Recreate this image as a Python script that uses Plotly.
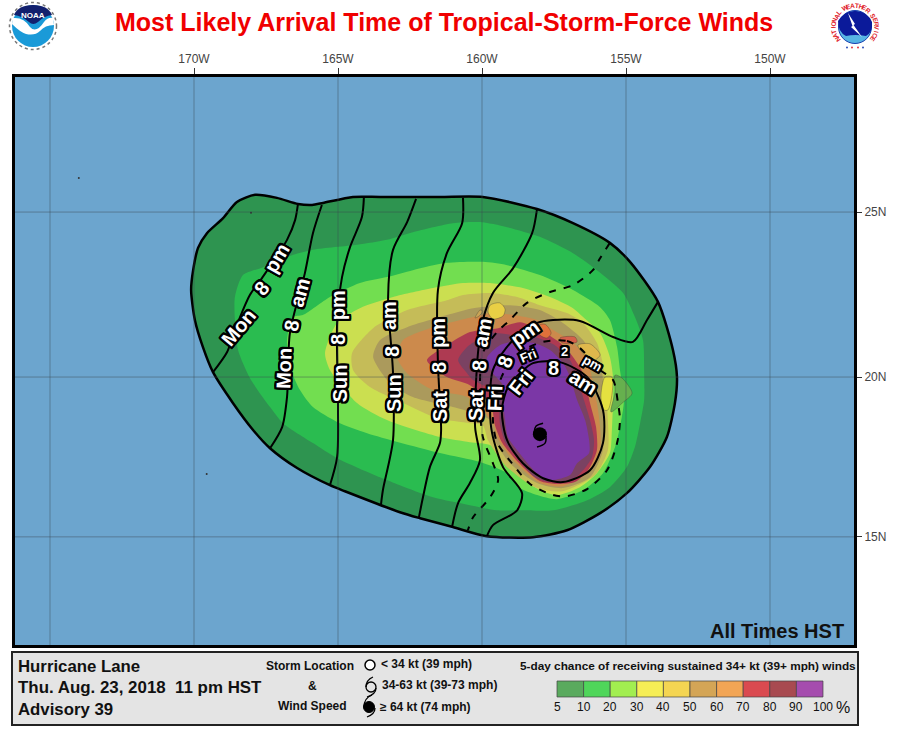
import numpy as np
import plotly.graph_objects as go

W, H = 897, 736
FONT = "Liberation Sans"

# wind probability contours (lon, lat)
P05_LON = [-161.46, -159.97, -158.09, -156.84, -155.56, -154.86, -153.89, -153.37, -153.23, -153.30, -153.58, -154.17, -154.97, -155.90, -157.05, -158.23, -159.83, -161.01, -162.15, -162.85, -164.76, -165.28, -166.42, -167.36, -167.95, -168.65, -169.34, -169.69, -169.97, -170.10, -170.03, -169.86, -169.55, -168.99, -168.51, -167.88, -167.12, -166.39, -165.90, -165.52, -164.48, -163.54, -161.46]
P05_LAT = [25.45, 25.45, 25.09, 24.67, 24.08, 23.51, 22.30, 20.83, 20.00, 19.20, 18.14, 17.20, 16.38, 15.75, 15.21, 14.99, 15.02, 15.31, 15.59, 15.78, 16.44, 16.63, 17.17, 17.79, 18.36, 19.20, 20.15, 20.92, 21.75, 22.66, 23.26, 23.93, 24.37, 24.82, 25.30, 25.51, 25.42, 25.24, 25.21, 25.27, 25.45, 25.45, 25.45]
P10_LON = [-167.60, -166.77, -165.87, -164.34, -163.30, -162.40, -161.01, -160.07, -159.13, -157.99, -156.84, -156.01, -155.10, -154.69, -154.41, -154.37, -154.37, -154.51, -154.69, -154.97, -155.56, -156.35, -157.53, -158.68, -159.48, -160.42, -161.70, -162.85, -163.54, -165.03, -165.87, -166.91, -167.36, -168.06, -168.47, -168.58, -168.58, -168.30]
P10_LAT = [23.35, 23.66, 23.87, 24.02, 24.17, 24.40, 24.67, 24.70, 24.55, 24.26, 23.77, 23.26, 22.57, 21.84, 21.14, 20.22, 19.29, 18.57, 17.83, 17.20, 16.57, 16.16, 15.84, 15.84, 15.84, 16.00, 16.25, 16.63, 16.88, 17.48, 17.95, 18.57, 19.07, 19.97, 20.83, 21.75, 22.45, 23.11]
P20_LON = [-165.28, -166.22, -166.56, -166.77, -166.67, -166.32, -165.87, -165.03, -163.99, -161.46, -160.07, -159.13, -158.68, -158.09, -157.40, -156.49, -155.80, -155.38, -155.21, -155.07, -155.21, -155.31, -155.56, -155.90, -156.84, -157.99, -159.13, -159.97, -161.22, -162.40, -163.30, -164.24]
P20_LAT = [22.45, 21.90, 21.84, 21.14, 20.31, 19.60, 19.07, 18.61, 18.26, 17.64, 17.36, 17.01, 16.54, 16.32, 16.19, 16.48, 17.01, 17.83, 18.45, 19.29, 20.22, 20.92, 21.75, 22.14, 22.66, 23.11, 23.41, 23.51, 23.48, 23.26, 23.05, 22.87]
P30_LON = [-165.45, -165.28, -164.34, -163.30, -161.46, -160.42, -159.72, -159.27, -158.68, -157.99, -157.40, -156.60, -156.01, -155.56, -155.49, -155.45, -155.45, -155.56, -155.90, -156.49, -156.84, -157.64, -158.58, -159.72, -160.66, -161.70, -163.09, -164.24, -165.03]
P30_LAT = [20.74, 20.22, 19.20, 18.67, 18.14, 17.98, 17.89, 17.42, 16.88, 16.48, 16.32, 16.57, 17.01, 17.64, 18.36, 19.29, 20.00, 20.62, 21.35, 21.84, 22.11, 22.45, 22.72, 22.87, 22.87, 22.72, 22.45, 22.11, 21.66]
P40_LON = [-164.51, -164.48, -163.89, -162.74, -161.56, -160.42, -159.97, -159.79, -159.20, -158.16, -157.22, -156.08, -155.63, -155.63, -155.73, -155.83, -156.01, -156.49, -157.05, -157.99, -158.78, -159.72, -160.66, -161.22, -162.60, -163.78]
P40_LAT = [20.74, 20.22, 19.69, 19.20, 18.73, 18.57, 18.51, 18.04, 17.26, 16.57, 16.44, 16.95, 17.73, 18.67, 20.00, 20.52, 21.05, 21.66, 21.96, 22.20, 22.45, 22.57, 22.51, 22.35, 22.05, 21.50]
P50_LON = [-163.78, -163.19, -162.40, -161.01, -160.31, -159.72, -159.62, -159.03, -158.09, -157.19, -156.25, -155.80, -155.80, -155.83, -156.08, -156.49, -157.19, -157.99, -159.03, -160.31, -161.22, -162.60, -163.54]
P50_LAT = [20.62, 19.81, 19.38, 19.07, 18.89, 18.67, 18.14, 17.32, 16.70, 16.54, 16.88, 17.73, 18.67, 20.12, 20.52, 21.14, 21.66, 22.05, 22.20, 22.11, 21.90, 21.53, 21.14]
P60_LON = [-162.95, -162.60, -161.70, -160.52, -159.62, -159.48, -158.92, -157.99, -157.19, -156.35, -155.90, -155.90, -156.01, -156.35, -156.84, -157.53, -158.09, -158.92, -159.72, -160.31, -161.70, -162.74]
P60_LAT = [20.62, 20.12, 19.60, 19.38, 18.57, 18.14, 17.42, 16.70, 16.60, 17.01, 17.73, 18.45, 19.20, 20.52, 21.05, 21.44, 21.75, 21.90, 21.96, 21.84, 21.53, 21.14]
P70_LON = [-161.91, -161.22, -160.42, -159.69, -159.55, -159.31, -158.75, -157.99, -157.47, -156.77, -156.32, -156.01, -156.04, -156.25, -156.49, -156.84, -157.29, -157.99, -158.68, -159.44, -160.42, -161.22]
P70_LAT = [20.52, 20.00, 19.75, 19.13, 18.51, 17.98, 17.36, 16.76, 16.67, 16.73, 17.10, 17.73, 18.45, 19.20, 20.12, 20.62, 21.05, 21.44, 21.68, 21.50, 21.38, 20.98]
P80_LON = [-160.83, -160.52, -160.31, -159.79, -159.44, -159.38, -159.20, -158.85, -158.16, -157.64, -156.88, -156.49, -156.18, -156.11, -156.25, -156.46, -156.70, -156.94, -157.47, -158.16, -158.92, -159.72, -160.17, -160.52]
P80_LAT = [20.52, 20.12, 19.91, 19.66, 19.29, 18.57, 17.98, 17.57, 16.88, 16.73, 16.79, 17.10, 17.51, 18.04, 18.67, 19.29, 20.00, 20.52, 20.98, 21.23, 21.29, 21.35, 21.14, 20.92]
P90_LON = [-159.83, -159.62, -159.27, -159.27, -159.20, -159.10, -158.78, -158.09, -157.64, -156.94, -156.70, -156.28, -156.28, -156.42, -156.70, -156.94, -157.19, -157.64, -158.23, -158.92, -159.38]
P90_LAT = [20.59, 20.12, 19.75, 19.29, 18.67, 18.14, 17.73, 17.01, 16.79, 16.95, 17.32, 17.64, 18.04, 18.67, 19.29, 20.00, 20.43, 20.83, 21.05, 21.08, 20.98]
MAP_COLORS = ["#2e9450", "#2abc50", "#72de50", "#cbdf50", "#c5bc58", "#ab9a5c", "#cc8a4c", "#ae3a52", "#7a4262", "#7b37a6"]

# arrival time lines
MON_PM_LON = [-166.39, -166.49, -166.77, -167.64, -168.06, -168.58, -168.85, -169.34]
MON_PM_LAT = [25.24, 24.76, 24.17, 23.02, 22.51, 21.44, 20.77, 20.15]
MON_AM_LON = [-165.56, -165.87, -166.15, -166.67, -166.77, -166.94, -167.36]
MON_AM_LAT = [25.21, 24.37, 23.17, 21.35, 19.38, 18.45, 17.79]
SUN_PM_LON = [-164.10, -164.17, -164.58, -164.86, -165.03, -165.00, -165.03, -165.28]
SUN_PM_LAT = [25.45, 24.85, 23.96, 23.05, 21.66, 19.07, 17.51, 16.63]
SUN_AM_LON = [-162.29, -162.60, -163.09, -163.26, -163.09, -163.09, -163.44, -163.51]
SUN_AM_LAT = [25.39, 24.70, 23.87, 22.45, 20.12, 18.04, 16.48, 16.00]
SAT_PM_LON = [-160.66, -160.69, -161.22, -161.53, -161.53, -161.42, -161.46, -161.81, -162.05, -162.19]
SAT_PM_LAT = [25.42, 24.67, 23.77, 22.66, 20.43, 18.36, 17.95, 17.20, 16.25, 15.62]
SAT_AM_LON = [-158.09, -158.26, -158.92, -159.62, -159.97, -160.14, -160.24, -160.07, -160.42, -160.83, -161.04]
SAT_AM_LAT = [25.09, 24.37, 23.32, 22.57, 21.75, 20.74, 18.45, 17.42, 16.70, 16.07, 15.31]
FRI_PM_LON = [-153.89, -154.27, -154.76, -155.45, -156.60, -157.53, -158.09, -158.92, -159.62, -159.72, -159.65, -159.27, -158.61, -158.78, -159.62, -159.83]
FRI_PM_LAT = [22.30, 21.75, 21.08, 21.23, 21.72, 21.75, 21.66, 21.14, 20.22, 18.98, 18.26, 17.20, 16.38, 15.84, 15.37, 15.02]
FRI_AM_LON = [-159.10, -158.68, -158.23, -157.29, -156.35, -155.80, -155.80, -156.25, -157.19, -157.88, -158.58, -159.13, -159.31, -159.10]
FRI_AM_LAT = [19.69, 20.12, 20.43, 20.46, 20.00, 18.98, 17.95, 17.10, 16.73, 16.85, 17.32, 18.04, 18.98, 19.69]
SAT_2AM_LON = [-155.56, -155.90, -156.15, -156.84, -157.64, -158.44, -159.03, -159.48, -159.97, -160.07, -159.97, -159.62, -159.44, -159.72, -160.31, -160.49]
SAT_2AM_LAT = [24.08, 23.62, 23.26, 22.81, 22.60, 22.27, 21.75, 21.38, 20.74, 19.29, 18.14, 17.32, 16.79, 16.25, 15.62, 15.21]
FRI_2PM_LON = [-157.88, -157.05, -156.60, -155.90, -155.45, -155.28, -155.21, -155.31, -155.66, -156.35, -157.05, -157.53, -158.33, -158.96, -159.48, -159.62, -159.48, -159.20, -158.68, -157.88]
FRI_2PM_LAT = [21.08, 21.11, 20.89, 20.22, 19.91, 19.20, 18.67, 17.95, 17.10, 16.51, 16.29, 16.32, 16.67, 17.32, 17.98, 18.67, 19.60, 20.22, 20.77, 21.08]

# line labels: word, lon, lat, angle, size
LABEL_WORDS = ["Mon", "8", "pm", "Mon", "8", "am", "Sun", "8", "pm", "Sun", "8", "am", "Sat", "8", "pm", "Sat", "8", "am", "Fri", "8", "pm", "Fri", "8", "am", "Fri", "2", "pm"]
LABEL_LON = [-168.44, -167.64, -167.12, -166.88, -166.60, -166.32, -164.93, -165.00, -165.00, -163.06, -163.13, -163.23, -161.46, -161.49, -161.53, -160.21, -160.10, -159.97, -159.55, -159.20, -158.51, -158.65, -157.53, -156.49, -158.37, -157.12, -156.15]
LABEL_LAT = [21.53, 22.72, 23.62, 20.28, 21.59, 22.60, 19.81, 21.14, 22.20, 19.50, 20.80, 21.90, 19.10, 20.28, 21.35, 19.13, 20.34, 21.38, 19.35, 20.46, 21.35, 19.85, 20.28, 19.85, 20.65, 20.80, 20.43]
LABEL_ANGLE = [-50, -50, -60, -88, -80, -75, -90, -90, -90, -90, -90, -90, -90, -90, -90, -88, -85, -80, -88, -70, -35, -52, 0, 32, -22, 0, 30]
LABEL_SIZE = [20] * 24 + [13, 13, 13]

# islands
ISLAND_LONS = [
    [-159.72, -159.38, -159.20, -159.27, -159.62, -159.79],
    [-160.24, -160.10, -159.97, -160.07],
    [-158.09, -157.81, -157.60, -157.74, -157.99],
    [-157.29, -156.77, -156.70, -157.22],
    [-156.67, -156.25, -155.90, -156.18, -156.53],
    [-155.38, -155.14, -154.79, -155.10, -155.52, -155.38],
    [-155.73, -155.49, -155.49, -155.63, -155.76, -155.87],
]
ISLAND_LATS = [
    [22.20, 22.27, 22.08, 21.87, 21.78, 21.99],
    [21.81, 21.87, 22.02, 22.05],
    [21.56, 21.62, 21.35, 21.20, 21.29],
    [21.20, 21.23, 21.08, 21.05],
    [20.98, 21.02, 20.68, 20.49, 20.77],
    [20.06, 19.97, 19.50, 19.22, 18.92, 19.54],
    [20.00, 20.00, 19.44, 18.98, 18.98, 19.38],
]
ISLAND_COLORS = ["#e9cf45", "#c9a456", "#e0703a", "#d5604a", "#dfb84c", "#66b04e", "#e4e040"]

STORM_LON, STORM_LAT = -157.99, 18.23
ARM_TOP_LON = [-158.19, -158.12, -157.88]
ARM_TOP_LAT = [18.29, 18.48, 18.57]
ARM_BOTTOM_LON = [-157.78, -157.81, -158.09]
ARM_BOTTOM_LAT = [18.17, 17.95, 17.83]

SPECK_LON = [-174.00, -169.56, -168.02]
SPECK_LAT = [26.01, 16.98, 24.98]

GRID_LON = [-175, -170, -165, -160, -155, -150]
LON_TICKS = [-170, -165, -160, -155, -150]
LON_LABELS = ["170W", "165W", "160W", "155W", "150W"]
LAT_TICKS = [25, 20, 15]
LAT_LABELS = ["25N", "20N", "15N"]

KEY_LABELS = ["5", "10", "20", "30", "40", "50", "60", "70", "80", "90", "100"]
KEY_COLORS = ["#5aaa5e", "#4fd65a", "#a2ee50", "#f6ee55", "#f4d552", "#d4a556", "#f2a555", "#da4a50", "#a84a50", "#a54cae"]


def merc(lat):
    # the map is a Mercator projection, so latitudes are stretched before plotting
    return np.log(np.tan(np.pi / 4 + np.radians(np.asarray(lat, dtype=float)) / 2))


def px(x):
    return x / W


def py(y):
    return 1 - y / H


def page_path(points, close=True):
    # points are page pixels, (x, y) or ("Q", x1, y1, x2, y2)
    out = []
    for i, p in enumerate(points):
        if p[0] == "Q":
            out.append(f"Q {px(p[1]):.5f} {py(p[2]):.5f} {px(p[3]):.5f} {py(p[4]):.5f}")
        else:
            out.append(f"{'M' if i == 0 else 'L'} {px(p[0]):.5f} {py(p[1]):.5f}")
    return " ".join(out) + (" Z" if close else "")


def add_path(fig, points, fill=None, line=None, width=0, close=True):
    fig.add_shape(type="path", xref="paper", yref="paper", path=page_path(points, close),
                  fillcolor=fill if fill else "rgba(0,0,0,0)",
                  line=dict(color=line if line else "rgba(0,0,0,0)", width=width), layer="above")


def add_circle(fig, cx, cy, r, fill=None, line=None, width=0, dash=None):
    fig.add_shape(type="circle", xref="paper", yref="paper",
                  x0=px(cx - r), x1=px(cx + r), y0=py(cy + r), y1=py(cy - r),
                  fillcolor=fill if fill else "rgba(0,0,0,0)",
                  line=dict(color=line if line else "rgba(0,0,0,0)", width=width, dash=dash), layer="above")


def add_text(fig, text, x, y, size, color="#111111", bold=True, anchor="left", angle=0):
    label = f"<b>{text}</b>" if bold else text
    fig.add_annotation(text=label, xref="paper", yref="paper", x=px(x), y=py(y), showarrow=False,
                       xanchor=anchor, yanchor="middle", textangle=angle,
                       font=dict(family=FONT, size=size, color=color))


fig = go.Figure()

# probability fills, outermost first
levels = [(P05_LON, P05_LAT), (P10_LON, P10_LAT), (P20_LON, P20_LAT), (P30_LON, P30_LAT), (P40_LON, P40_LAT),
          (P50_LON, P50_LAT), (P60_LON, P60_LAT), (P70_LON, P70_LAT), (P80_LON, P80_LAT), (P90_LON, P90_LAT)]
for (lons, lats), color in zip(levels, MAP_COLORS):
    fig.add_trace(go.Scatter(x=lons + lons[:1], y=merc(lats + lats[:1]), mode="lines", fill="toself", fillcolor=color,
                             line=dict(color=color, width=0, shape="spline", smoothing=0.7),
                             hoverinfo="skip", showlegend=False))

for lons, lats, color in zip(ISLAND_LONS, ISLAND_LATS, ISLAND_COLORS):
    fig.add_trace(go.Scatter(x=lons + lons[:1], y=merc(lats + lats[:1]), mode="lines", fill="toself", fillcolor=color,
                             line=dict(color="rgba(60,60,50,0.5)", width=0.7, shape="spline", smoothing=0.8),
                             hoverinfo="skip", showlegend=False))

# outline of the 5% area
fig.add_trace(go.Scatter(x=P05_LON, y=merc(P05_LAT), mode="lines",
                         line=dict(color="black", width=2.5, shape="spline", smoothing=0.7),
                         hoverinfo="skip", showlegend=False))

solid = [(MON_PM_LON, MON_PM_LAT), (MON_AM_LON, MON_AM_LAT), (SUN_PM_LON, SUN_PM_LAT), (SUN_AM_LON, SUN_AM_LAT),
         (SAT_PM_LON, SAT_PM_LAT), (SAT_AM_LON, SAT_AM_LAT), (FRI_PM_LON, FRI_PM_LAT), (FRI_AM_LON, FRI_AM_LAT)]
for lons, lats in solid:
    fig.add_trace(go.Scatter(x=lons, y=merc(lats), mode="lines",
                             line=dict(color="black", width=2, shape="spline", smoothing=0.8),
                             hoverinfo="skip", showlegend=False))
for lons, lats in [(SAT_2AM_LON, SAT_2AM_LAT), (FRI_2PM_LON, FRI_2PM_LAT)]:
    fig.add_trace(go.Scatter(x=lons, y=merc(lats), mode="lines",
                             line=dict(color="black", width=2, dash="7px,8px", shape="spline", smoothing=0.8),
                             hoverinfo="skip", showlegend=False))

# hurricane symbol
fig.add_trace(go.Scatter(x=[STORM_LON], y=merc([STORM_LAT]), mode="markers",
                         marker=dict(color="black", size=14), hoverinfo="skip", showlegend=False))
for lons, lats in [(ARM_TOP_LON, ARM_TOP_LAT), (ARM_BOTTOM_LON, ARM_BOTTOM_LAT)]:
    fig.add_trace(go.Scatter(x=lons, y=merc(lats), mode="lines",
                             line=dict(color="black", width=1.5, shape="spline"),
                             hoverinfo="skip", showlegend=False))
fig.add_trace(go.Scatter(x=SPECK_LON, y=merc(SPECK_LAT), mode="markers",
                         marker=dict(color="#333333", size=2), hoverinfo="skip", showlegend=False))

# map grid sits on top of the colours
for lon in GRID_LON:
    fig.add_shape(type="line", xref="x", yref="paper", x0=lon, x1=lon, y0=py(645), y1=py(77),
                  line=dict(color="rgba(60,70,80,0.45)", width=1), layer="above")
for lat in LAT_TICKS:
    fig.add_shape(type="line", xref="paper", yref="y", x0=px(15), x1=px(854), y0=float(merc(lat)), y1=float(merc(lat)),
                  line=dict(color="rgba(60,70,80,0.45)", width=1), layer="above")

# time labels with the black halo
halo = ", ".join(f"{dx}px {dy}px 0 #000" for dx in (-2, -1, 0, 1, 2) for dy in (-2, -1, 0, 1, 2))
for word, lon, lat, angle, size in zip(LABEL_WORDS, LABEL_LON, LABEL_LAT, LABEL_ANGLE, LABEL_SIZE):
    fig.add_annotation(text=f"<b>{word}</b>", x=lon, y=float(merc(lat)), xref="x", yref="y", showarrow=False,
                       textangle=angle, font=dict(family=FONT, size=size, color="white", shadow=halo))

# header
add_text(fig, "Most Likely Arrival Time of Tropical-Storm-Force Winds", 443.5, 22, 25, color="#f00000", anchor="center")
add_text(fig, "All Times HST", 846, 631, 20, anchor="right")

# bottom panel
add_path(fig, [(12, 652), (858, 652), (858, 725), (12, 725)], fill="#e4e4e4", line="#222222", width=2)
add_text(fig, "Hurricane Lane", 16, 666, 16.8)
add_text(fig, "Thu. Aug. 23, 2018\u00a0 11 pm HST", 16, 687, 16.9)
add_text(fig, "Advisory 39", 16, 709, 16.8)
add_text(fig, "Storm Location", 309.5, 665.5, 12, anchor="center")
add_text(fig, "&", 312, 686, 12, anchor="center")
add_text(fig, "Wind Speed", 312, 706, 12, anchor="center")
add_text(fig, "&lt; 34 kt (39 mph)", 379, 664, 12)
add_text(fig, "34-63 kt (39-73 mph)", 380, 685, 12)
add_text(fig, "≥ 64 kt (74 mph)", 378, 707, 12)
add_text(fig, "5-day chance of receiving sustained 34+ kt (39+ mph) winds", 518, 666, 11.8)

# storm key symbols
add_circle(fig, 370, 665, 5, fill="white", line="black", width=1.5)
add_circle(fig, 371, 687, 5, line="black", width=1.3)
add_path(fig, [(373, 677), ("Q", 366, 680, 366, 687)], line="black", width=1.3, close=False)
add_path(fig, [(376, 688), ("Q", 376, 694, 367, 697)], line="black", width=1.3, close=False)
add_circle(fig, 369, 707, 5.5, fill="black", line="black", width=1)
add_path(fig, [(372, 695), ("Q", 364, 698, 364, 707)], line="black", width=1.3, close=False)
add_path(fig, [(375, 708), ("Q", 375, 714, 367, 717)], line="black", width=1.3, close=False)

# colour key
key_left, key_step = 557, 26.6
for i, color in enumerate(KEY_COLORS):
    x0 = key_left + i * key_step
    add_path(fig, [(x0, 681), (x0 + key_step, 681), (x0 + key_step, 697), (x0, 697)], fill=color, line="#444444", width=0.7)
for i, label in enumerate(KEY_LABELS):
    add_text(fig, label, key_left + i * key_step, 707, 12, anchor="center", bold=False)
add_text(fig, "%", 843, 707, 16, anchor="center", bold=False)

# NOAA logo
add_circle(fig, 33, 26, 23.5, line="#777777", width=1.5, dash="dot")
add_circle(fig, 33, 26, 21, fill="#1a9ad8")
add_path(fig, [(14, 15), ("Q", 18, 5, 33, 5), ("Q", 48, 5, 52, 15), ("Q", 44, 16, 38, 22), ("Q", 33, 26, 29, 22), ("Q", 22, 16, 14, 15)], fill="#12206e")
add_path(fig, [(13, 18), ("Q", 24, 17, 30, 27), ("Q", 36, 34, 44, 22), ("Q", 48, 17, 53, 18), (54, 25), ("Q", 45, 25, 40, 31), ("Q", 35, 36, 26, 34), ("Q", 20, 32, 12, 24)], fill="white")
add_text(fig, "NOAA", 33, 16, 8, color="white", anchor="center")

# NWS logo
add_circle(fig, 855, 27, 16.5, fill="#58b4e4", line="#1a3fb0", width=1)
add_path(fig, [(838, 21), ("Q", 845, 10, 856, 11), ("Q", 868, 12, 872, 22), ("Q", 873, 32, 866, 36), ("Q", 855, 34, 846, 36), ("Q", 838, 32, 838, 21)], fill="#0b1a9a")
add_path(fig, [(848, 13), (855, 24), (853.5, 25), (862, 37), (851, 27), (852.5, 26)], fill="white")
nws = "NATIONAL WEATHER SERVICE"
for i, letter in enumerate(nws):
    a = -125 + 250 * i / (len(nws) - 1)
    if letter != " ":
        add_text(fig, letter, 855 + 21.5 * np.sin(np.radians(a)), 27 - 21.5 * np.cos(np.radians(a)), 6.5, color="#e0202a", anchor="center", angle=a)
for x, color in zip([847, 852, 858, 863], ["#1a3fb0", "#e0202a", "#e0202a", "#1a3fb0"]):
    add_circle(fig, x, 47.5, 0.9, fill=color)

fig.update_layout(
    width=W, height=H, margin=dict(l=0, r=0, t=0, b=0), paper_bgcolor="white", plot_bgcolor="#6ca5ce",
    font=dict(family=FONT),
    xaxis=dict(domain=[px(15), px(854)], range=[-170 + (15 - 194) / 28.8, -170 + (854 - 194) / 28.8],
               side="top", tickvals=LON_TICKS, ticktext=LON_LABELS, showgrid=False, zeroline=False,
               ticks="outside", ticklen=6, tickcolor="#333333", tickfont=dict(size=12, color="#444444"),
               showline=True, mirror=True, linecolor="black", linewidth=3),
    yaxis=dict(domain=[py(645), py(77)], range=[0.3564 - (645 - 377) / 1746, 0.3564 + (377 - 77) / 1746],
               side="right", tickvals=[float(merc(v)) for v in LAT_TICKS], ticktext=LAT_LABELS, showgrid=False, zeroline=False,
               ticks="outside", ticklen=5, tickcolor="#333333", tickfont=dict(size=12, color="#444444"),
               showline=True, mirror=True, linecolor="black", linewidth=3),
)

fig.write_html("out.html", config={"displayModeBar": False},
               post_script="document.body.style.margin='0';document.documentElement.style.overflow='hidden';")
